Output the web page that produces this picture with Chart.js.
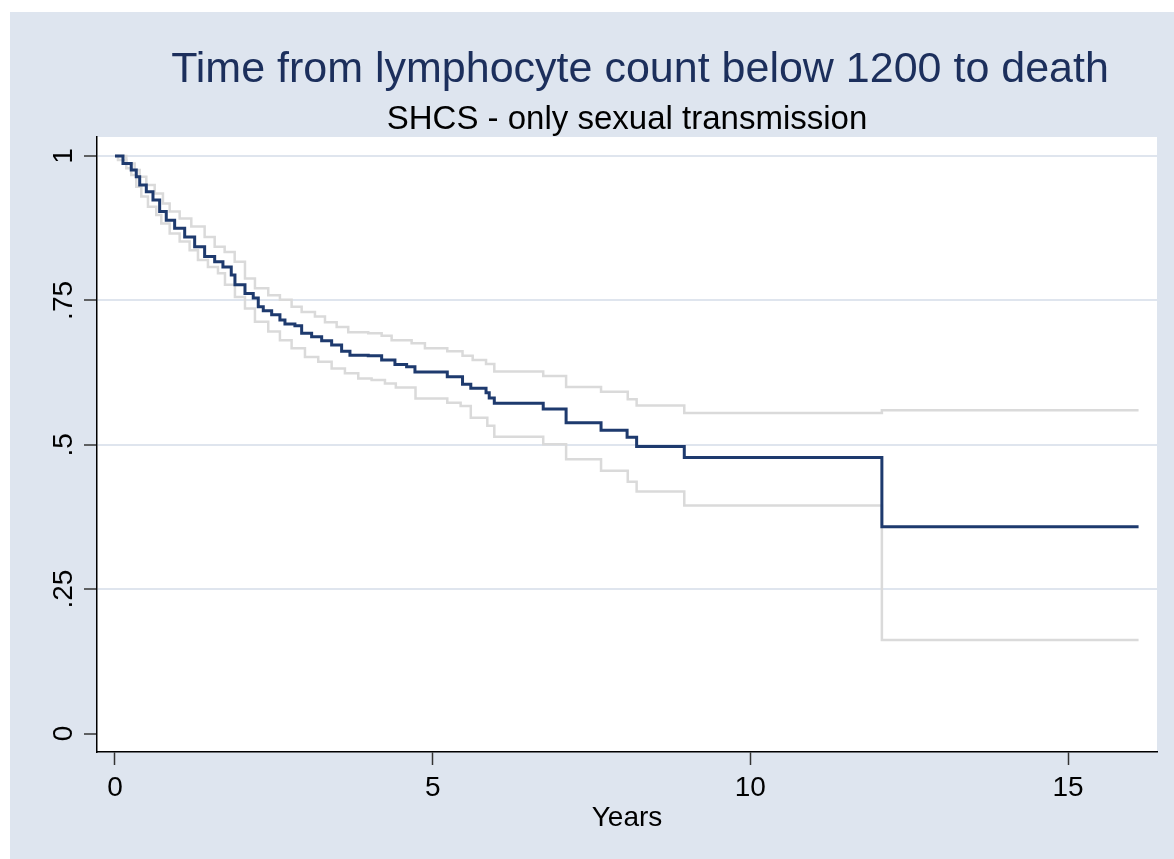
<!DOCTYPE html>
<html>
<head>
<meta charset="utf-8">
<script src="https://cdn.jsdelivr.net/npm/chart.js@4.4.1/dist/chart.umd.min.js"></script>
<style>
  html, body { margin: 0; padding: 0; background: #ffffff; }
  #wrap { position: absolute; left: 10px; top: 12px; width: 1164px; height: 847px; background: #dee5ef; }
</style>
</head>
<body>
<div id="wrap"><canvas id="kmChart" width="1164" height="847"></canvas></div>
<script>
// Kaplan-Meier estimate (years, survival)
const kmTime = [0, 0.126, 0.256, 0.335, 0.389, 0.493, 0.598, 0.703, 0.807, 0.939, 1.097, 1.254, 1.411, 1.569, 1.699, 1.83, 1.888, 2.046, 2.176, 2.255, 2.334, 2.466, 2.596, 2.675, 2.832, 2.938, 3.095, 3.253, 3.41, 3.567, 3.698, 3.986, 4.197, 4.406, 4.59, 4.721, 5.23, 5.47, 5.6, 5.84, 5.89, 5.97, 6.74, 7.1, 7.65, 8.06, 8.21, 8.96, 12.07, 16.11];
const kmSurv = [1, 0.987, 0.976, 0.964, 0.95, 0.938, 0.924, 0.904, 0.889, 0.875, 0.86, 0.843, 0.826, 0.817, 0.808, 0.794, 0.777, 0.762, 0.754, 0.739, 0.732, 0.725, 0.716, 0.709, 0.706, 0.693, 0.687, 0.68, 0.673, 0.662, 0.655, 0.654, 0.647, 0.639, 0.635, 0.626, 0.618, 0.605, 0.598, 0.59, 0.581, 0.572, 0.562, 0.538, 0.525, 0.513, 0.497, 0.478, 0.358, 0.358];

// upper confidence band
const upTime = [0, 0.178, 0.31, 0.389, 0.493, 0.625, 0.755, 0.861, 1.018, 1.201, 1.411, 1.569, 1.726, 1.884, 2.046, 2.203, 2.412, 2.596, 2.78, 2.938, 3.147, 3.305, 3.489, 3.671, 3.986, 4.197, 4.354, 4.669, 4.878, 5.23, 5.47, 5.63, 5.84, 5.97, 6.74, 7.1, 7.65, 8.07, 8.21, 8.96, 12.07, 16.11];
const upSurv = [1, 0.987, 0.976, 0.964, 0.95, 0.935, 0.918, 0.904, 0.892, 0.878, 0.86, 0.843, 0.834, 0.817, 0.788, 0.771, 0.759, 0.751, 0.739, 0.73, 0.722, 0.712, 0.704, 0.695, 0.693, 0.689, 0.681, 0.676, 0.667, 0.662, 0.654, 0.647, 0.64, 0.627, 0.619, 0.6, 0.592, 0.579, 0.568, 0.555, 0.56, 0.56];

// lower confidence band
const loTime = [0, 0.047, 0.178, 0.256, 0.335, 0.414, 0.519, 0.65, 0.729, 0.861, 1.018, 1.175, 1.306, 1.463, 1.621, 1.731, 1.888, 2.046, 2.203, 2.412, 2.596, 2.78, 2.99, 3.199, 3.41, 3.619, 3.829, 4.039, 4.249, 4.42, 4.73, 5.23, 5.44, 5.6, 5.86, 5.97, 6.74, 7.1, 7.65, 8.07, 8.21, 8.96, 12.07, 16.11];
const loSurv = [1, 0.993, 0.979, 0.967, 0.947, 0.93, 0.912, 0.898, 0.883, 0.866, 0.852, 0.837, 0.82, 0.808, 0.797, 0.777, 0.756, 0.736, 0.713, 0.696, 0.681, 0.667, 0.652, 0.644, 0.632, 0.624, 0.615, 0.612, 0.606, 0.599, 0.58, 0.573, 0.567, 0.547, 0.533, 0.514, 0.501, 0.475, 0.455, 0.436, 0.419, 0.395, 0.162, 0.162];

const xTicks = [0, 5, 10, 15];
const xTickLabels = ["0", "5", "10", "15"];
const yTicks = [0, 0.25, 0.5, 0.75, 1];
const yTickLabels = ["0", ".25", ".5", ".75", "1"];

const FONT = "'Liberation Sans', Arial, sans-serif";

function pts(t, s) {
  return t.map((v, i) => ({ x: v, y: s[i] }));
}

// white plot region + rotated y labels, Stata style
const plotBg = {
  id: "plotBg",
  afterLayout(chart) {
    // Stata's title sits a bit right of the plot centre
    chart.titleBlock.left += 13;
    chart.titleBlock.right += 13;
  },
  beforeDraw(chart) {
    const a = chart.chartArea;
    const c = chart.ctx;
    c.save();
    c.fillStyle = "#ffffff";
    c.fillRect(a.left, a.top, a.right - a.left, a.bottom - a.top);
    c.restore();
  },
  afterDraw(chart) {
    const y = chart.scales.y;
    const c = chart.ctx;
    c.save();
    c.fillStyle = "#000000";
    c.font = "28px " + FONT;
    c.textAlign = "center";
    c.textBaseline = "alphabetic";
    yTicks.forEach((v, i) => {
      c.save();
      c.translate(62, y.getPixelForValue(v));
      c.rotate(-Math.PI / 2);
      c.fillText(yTickLabels[i], 0, 0);
      c.restore();
    });
    c.restore();
  }
};

new Chart(document.getElementById("kmChart"), {
  type: "line",
  data: {
    datasets: [
      { data: pts(kmTime, kmSurv), borderColor: "#1e3a6e", borderWidth: 3, stepped: true, pointRadius: 0, order: 0 },
      { data: pts(upTime, upSurv), borderColor: "#dadada", borderWidth: 2.5, stepped: true, pointRadius: 0, order: 1 },
      { data: pts(loTime, loSurv), borderColor: "#dadada", borderWidth: 2.5, stepped: true, pointRadius: 0, order: 1 }
    ]
  },
  options: {
    responsive: false,
    animation: false,
    layout: { padding: { left: 0, right: 17, top: 0, bottom: 0 } },
    plugins: {
      legend: { display: false },
      tooltip: { enabled: false },
      title: {
        display: true,
        fullSize: false,
        text: "Time from lymphocyte count below 1200 to death",
        color: "#1c2f5c",
        font: { family: FONT, size: 43, weight: "normal", lineHeight: 1 },
        padding: { top: 37, bottom: 11 }
      },
      subtitle: {
        display: true,
        fullSize: false,
        text: "SHCS - only sexual transmission",
        color: "#000000",
        font: { family: FONT, size: 33, weight: "normal", lineHeight: 1 },
        padding: { top: 0, bottom: 1 }
      }
    },
    scales: {
      x: {
        type: "linear",
        min: -0.283,
        max: 16.4,
        afterBuildTicks: (s) => { s.ticks = xTicks.map(v => ({ value: v })); },
        afterFit: (s) => { s.height = 107; },
        border: { display: true, color: "#000000", width: 1.5 },
        grid: { drawOnChartArea: false, drawTicks: true, tickLength: 13, tickColor: "#333333", tickWidth: 1.5 },
        ticks: {
          color: "#000000",
          font: { family: FONT, size: 28 },
          padding: 6,
          maxRotation: 0,
          callback: (v) => xTickLabels[xTicks.indexOf(v)]
        },
        title: {
          display: true,
          text: "Years",
          color: "#000000",
          font: { family: FONT, size: 28 },
          padding: { top: 0, bottom: 24 }
        }
      },
      y: {
        type: "linear",
        min: -0.032,
        max: 1.033,
        afterBuildTicks: (s) => { s.ticks = yTicks.map(v => ({ value: v })); },
        afterFit: (s) => { s.width = 87; },
        border: { display: true, color: "#000000", width: 1.5 },
        grid: {
          drawTicks: true,
          tickLength: 13,
          tickColor: "#333333",
          tickWidth: 1.5,
          lineWidth: 2,
          color: (ctx) => (ctx.tick && ctx.tick.value === 0 ? "rgba(0,0,0,0)" : "#dfe5ee")
        },
        ticks: { display: false }
      }
    }
  },
  plugins: [plotBg]
});
</script>
</body>
</html>
